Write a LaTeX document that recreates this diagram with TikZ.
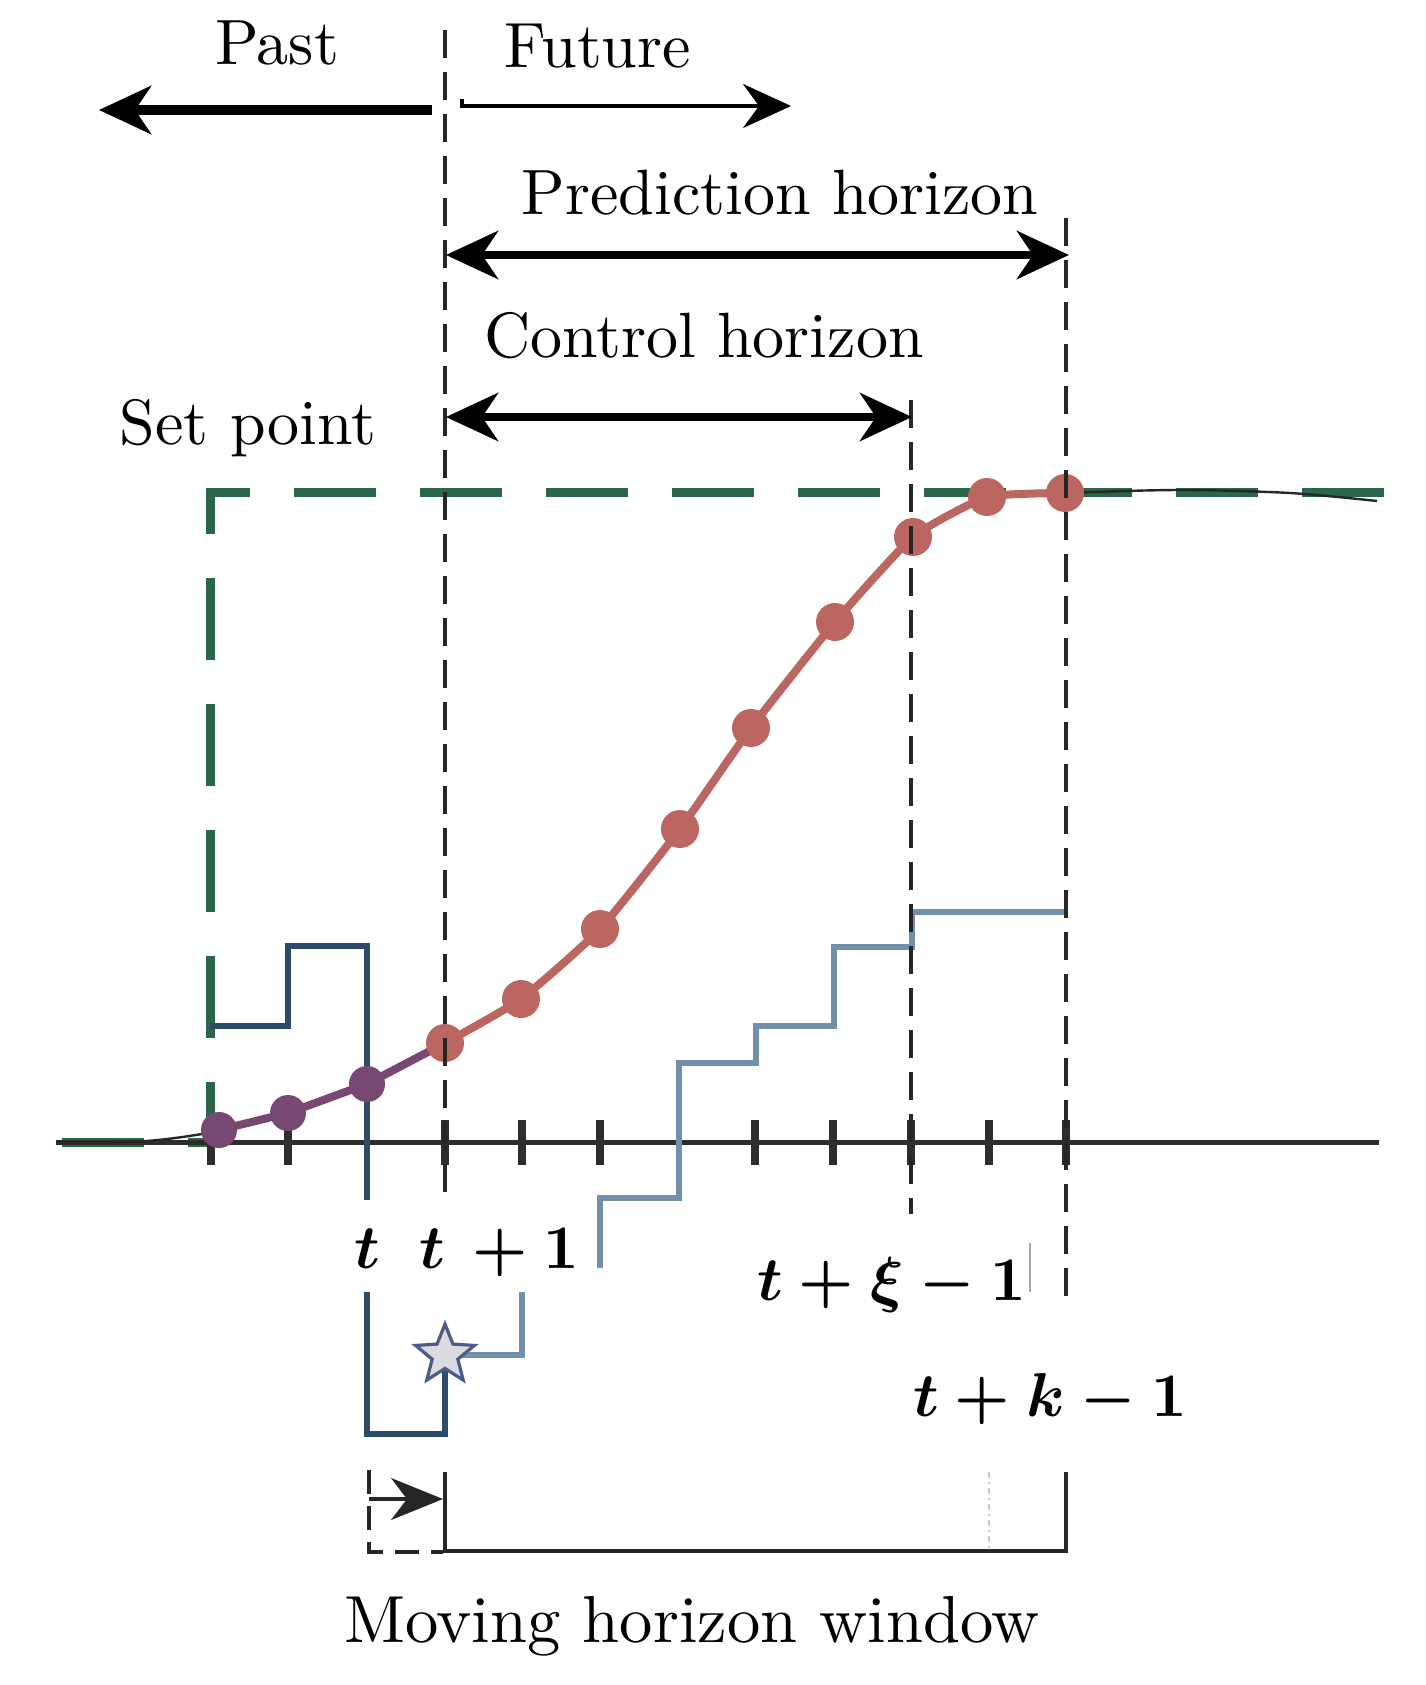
\documentclass[tikz,border=0pt]{standalone}
\usepackage{amsmath,amssymb}
\usetikzlibrary{arrows.meta,shapes.geometric}
\definecolor{spgreen}{RGB}{42,102,72}
\definecolor{predred}{RGB}{188,102,97}
\definecolor{pastpurple}{RGB}{120,72,115}
\definecolor{darkblue}{RGB}{45,76,106}
\definecolor{lightblue}{RGB}{114,143,172}
\definecolor{axisgray}{RGB}{45,45,45}
\definecolor{starfill}{RGB}{218,218,224}
\definecolor{staredge}{RGB}{78,90,135}
\tikzset{
  bighead/.tip={Stealth[length=26pt,width=24pt,inset=8pt]},
  midhead/.tip={Stealth[length=24pt,width=22pt,inset=8pt]},
  smallhead/.tip={Stealth[length=26pt,width=21pt,inset=8pt]},
  lbl/.style={scale=3.2, inner sep=0pt, anchor=base},
  mlbl/.style={scale=3.1, inner sep=0pt, anchor=base west},
  vdash/.style={line width=1.8pt, black!85, dash pattern=on 14pt off 7pt},
  tickmark/.style={line width=3.8pt, axisgray},
  dotp/.style={fill=pastpurple},
  dotr/.style={fill=predred}
}
\begin{document}
\begin{tikzpicture}[x=0.5pt,y=-0.5pt]
\useasboundingbox (0,0) rectangle (1425,1685);

% set point (green dashed step)
\draw[spgreen, line width=4.5pt, dash pattern=on 41pt off 22pt]
  (62,1142) -- (210,1142) -- (210,492) -- (1392,492);

% axis
\draw[axisgray, line width=2.5pt] (56,1142) -- (1379,1142);
\foreach \xx in {211,288,445,522,600,755,833,911,989,1066}
  \draw[tickmark] (\xx,1120) -- (\xx,1165);

% input steps
\draw[darkblue, line width=2.6pt]
  (210,1026) -- (288,1026) -- (288,946) -- (367,946) -- (367,1434) -- (445,1434) -- (445,1355);
\draw[lightblue, line width=2.6pt]
  (445,1355) -- (522,1355) -- (522,1265) -- (600,1265) -- (600,1198) -- (679,1198)
  -- (679,1063) -- (756,1063) -- (756,1026) -- (834,1026) -- (834,947) -- (912,947)
  -- (912,912) -- (1066,912);

% output curve
\draw[black!85, line width=1.2pt] plot[smooth, tension=0.5] coordinates {
  (56,1142) (146,1141) (219,1131) (288,1114) (367,1085) (445,1043) (521,999)
  (600,929) (680,829) (751,728) (835,622) (913,537) (987,497) (1065,493)
  (1180,490) (1290,493) (1377,501)};

% past (purple) and predicted (red) outputs
\draw[pastpurple, line width=4pt, line join=round, line cap=round]
  (219,1130) -- (288,1113) -- (367,1084) -- (445,1043);
\draw[predred, line width=4pt, line join=round, line cap=round]
  plot[smooth, tension=0.3] coordinates {(445,1043) (521,999) (600,929) (680,829)
  (751,728) (835,622) (913,537) (987,497) (1065,493)};
\foreach \px/\py in {219/1130, 288/1113, 367/1084}
  \fill[dotp] (\px,\py) circle[radius=9pt];
\foreach \px/\py in {445/1043, 521/999, 600/929, 680/829, 751/728, 835/622, 913/537, 987/497, 1065/493}
  \fill[dotr] (\px,\py) circle[radius=9.5pt];

% vertical dashed lines
\draw[vdash] (445,30) -- (445,1200);
\draw[vdash] (911,400) -- (911,1214);
\draw[vdash] (1066,218) -- (1066,1307);

% white label background
\fill[white] (350,1200) rectangle (597,1292);

% star
\node[star, star points=5, star point ratio=2.3, minimum size=31pt, inner sep=0pt,
      fill=starfill, draw=staredge, line width=1.6pt] (st) at (445,1355) {};

% top arrows
\coordinate (pastS) at (432,110);
\coordinate (pastE) at (99,110);
\coordinate (futA) at (462,99);
\coordinate (futS) at (462,106);
\coordinate (futE) at (791,106);
\coordinate (predS) at (446,255);
\coordinate (predE) at (1069,255);
\coordinate (ctrlS) at (446,417);
\coordinate (ctrlE) at (912,417);
\draw[line width=5pt, -bighead] (pastS) -- (pastE);
\draw[line width=2pt, -midhead] (futA) -- (futS) -- (futE);
\draw[line width=4.2pt, bighead-bighead] (predS) -- (predE);
\draw[line width=4.2pt, bighead-bighead] (ctrlS) -- (ctrlE);

% texts
\node[lbl] (past) at (277,65) {Past};
\node[lbl] (future) at (598,68) {Future};
\node[lbl] (pred) at (780,215) {Prediction horizon};
\node[lbl] (ctrl) at (704,357) {Control horizon};
\node[lbl] (setp) at (248,444) {Set point};
\node[lbl, scale=1.04] (mhw) at (692,1642) {Moving horizon window};

% time labels
\node[mlbl, anchor=base] (lt) at (367,1268) {$\boldsymbol{t}$};
\node[mlbl] (ltp) at (418,1268) {$\boldsymbol{t\,+1}$};
\node[mlbl] (lxi) at (756,1300) {$\boldsymbol{t+\xi-1}$};
\node[mlbl] (lk) at (912,1416) {$\boldsymbol{t+k-1}$};
\draw[gray!70, line width=1pt] (1030,1243) -- (1030,1292);

% moving horizon window bracket
\coordinate (wA) at (369,1470);
\coordinate (wB) at (369,1552);
\coordinate (wC) at (443,1552);
\coordinate (wD) at (445,1472);
\coordinate (wE) at (445,1551);
\coordinate (wF) at (1066,1551);
\coordinate (wG) at (1066,1472);
\coordinate (arS) at (369,1499);
\coordinate (arE) at (443,1499);
\draw[black!85, line width=1.8pt, dash pattern=on 12pt off 6pt] (wA) -- (wB) -- (wC);
\draw[black!85, line width=1.6pt] (wD) -- (wE) -- (wF) -- (wG);
\draw[gray!45, line width=1pt, dash dot] (989,1472) -- (989,1549);
\draw[black!85, line width=1.6pt, -smallhead] (arS) -- (arE);
\end{tikzpicture}
\end{document}
